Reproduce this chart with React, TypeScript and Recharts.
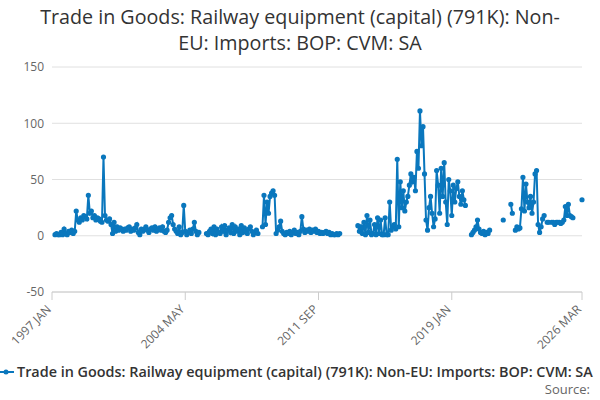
import { LineChart, Line, XAxis, YAxis, CartesianGrid } from 'recharts';

const months = ['JAN', 'FEB', 'MAR', 'APR', 'MAY', 'JUN', 'JUL', 'AUG', 'SEP', 'OCT', 'NOV', 'DEC'];
const startYear = 1997;

// monthly values per year (null = no data)
const y1997 = [null, null, 1, 2, 1, 1, 3, 1, 6, 2, 1, 4];
const y1998 = [3, 5, 2, 4, 22, 14, 12, 16, 14, 18, 17, 15];
const y1999 = [36, 20, 22, 16, 18, 14, 16, 15, 13, 12, 70, 18];
const y2000 = [14, 13, 15, 10, 2, 12, 4, 8, 5, 7, 6, 4];
const y2001 = [6, 5, 7, 8, 4, 6, 5, 7, 10, 3, 1, 6];
const y2002 = [4, 6, 8, 5, 3, 6, 7, 5, 8, 4, 6, 7];
const y2003 = [5, 8, 4, 3, 5, 12, 16, 18, 10, 6, 4, 2];
const y2004 = [8, 1, 3, 27, 4, 1, 3, 5, 2, 6, 12, 4];
const y2005 = [1, 3, null, null, null, null, 2, 1, 4, 6, 2, 8];
const y2006 = [1, 6, 3, 2, 8, 4, 9, 1, 5, 7, 3, 10];
const y2007 = [2, 8, 4, 6, 1, 9, 3, 7, 5, 2, 6, 8];
const y2008 = [4, 1, 3, 5, 2, null, null, 8, 36, 10, 30, 20];
const y2009 = [35, 38, 40, 36, 2, 5, 8, 13, 4, 2, 1, 3];
const y2010 = [2, 4, 1, 3, 5, 2, 3, 1, 4, 17, 6, 3];
const y2011 = [5, 4, 6, 3, 5, 4, 6, 3, 4, 2, 3, 2];
const y2012 = [3, 4, 2, 3, 1, 2, 1, 1, 2, 1, 2, null];
const y2013 = [null, null, null, null, null, null, null, null, null, null, 9, 4];
const y2014 = [8, 2, 12, 1, 18, 3, 14, 1, 2, 10, 1, 16];
const y2015 = [2, 14, 1, 1, 16, 1, 1, 30, 5, 8, 10, 6];
const y2016 = [68, 8, 48, 25, 40, 22, 30, 35, 45, 55, 48, 52];
const y2017 = [40, 75, 60, 111, 80, 97, 55, 14, 5, 25, 35, 20];
const y2018 = [8, 15, 58, 45, 20, 60, 35, 65, 30, 10, 50, 40];
const y2019 = [18, 45, 30, 42, 48, 35, 28, 40, 32, 27, null, null];
const y2020 = [null, 1, 3, 5, 8, 14, 6, 3, 2, 4, 1, 3];
const y2021 = [2, 5, null, null, null, null, null, null, null, null, 14, null];
const y2022 = [null, null, null, 28, 20, null, 5, 8, 6, 7, 24, 52];
const y2023 = [22, 46, 30, 25, 35, 20, 30, 55, 58, 10, 3, 8];
const y2024 = [15, 18, null, 12, 12, null, 12, 12, 10, 12, 12, 12];
const y2025 = [11, 12, 14, 26, 18, 28, 18, 17, 16, null, null, null];
const y2026 = [null, null, 32];

const years = [y1997, y1998, y1999, y2000, y2001, y2002, y2003, y2004, y2005, y2006, y2007, y2008, y2009, y2010, y2011, y2012, y2013, y2014, y2015, y2016, y2017, y2018, y2019, y2020, y2021, y2022, y2023, y2024, y2025, y2026];

const xTicks = ['1997 JAN', '2004 MAY', '2011 SEP', '2019 JAN', '2026 MAR'];
const yTicks = [-50, 0, 50, 100, 150];

const seriesName = 'Trade in Goods: Railway equipment (capital) (791K): Non-EU: Imports: BOP: CVM: SA';

const data = years.flatMap((vals, i) =>
  vals.map((v, m) => ({ date: `${startYear + i} ${months[m]}`, value: v }))
);

const font = '"Open Sans", "DejaVu Sans", sans-serif';
const blue = '#0a77bd';

function AngledTick(props: any) {
  const { x, y, payload } = props;
  return (
    <text x={x} y={y + 8} transform={`rotate(-45, ${x}, ${y + 8})`} textAnchor="end" fontSize={12} fill="#666" fontFamily={font}>
      {payload.value}
    </text>
  );
}

export default function App() {
  return (
    <div style={{ position: 'absolute', left: 0, top: 0, width: 600, height: 400, overflow: 'hidden', background: '#fff', fontFamily: font }}>
      <div style={{ position: 'absolute', top: 4, left: 0, width: 600, textAlign: 'center', fontSize: 19.7, color: '#333', lineHeight: '26px' }}>
        Trade in Goods: Railway equipment (capital) (791K): Non-
        <br />
        EU: Imports: BOP: CVM: SA
      </div>
      <LineChart width={600} height={400} data={data} margin={{ top: 67, right: 18, bottom: 78, left: 12 }}>
        <CartesianGrid vertical={false} stroke="#e0e0e0" />
        <XAxis dataKey="date" ticks={xTicks} interval={0} tick={<AngledTick />} tickLine={{ stroke: '#ccc' }} axisLine={{ stroke: '#ccc' }} tickSize={8} />
        <YAxis domain={[-50, 150]} ticks={yTicks} width={40} axisLine={false} tickLine={false} tick={{ fontSize: 12, fill: '#666', fontFamily: font }} />
        <Line dataKey="value" stroke={blue} strokeWidth={2} dot={{ r: 1.6, fill: blue, stroke: blue }} isAnimationActive={false} connectNulls={false} />
      </LineChart>
      <div style={{ position: 'absolute', top: 362, left: -2, whiteSpace: 'nowrap', fontSize: 14.4, fontWeight: 600, color: '#333', display: 'flex', alignItems: 'center' }}>
        <svg width={16} height={10} style={{ marginRight: 3 }}>
          <line x1={0} y1={5} x2={16} y2={5} stroke={blue} strokeWidth={2} />
          <circle cx={8} cy={5} r={2.5} fill={blue} />
        </svg>
        {seriesName}
      </div>
      <div style={{ position: 'absolute', top: 380, right: 10, fontSize: 13, color: '#666' }}>Source:</div>
    </div>
  );
}
